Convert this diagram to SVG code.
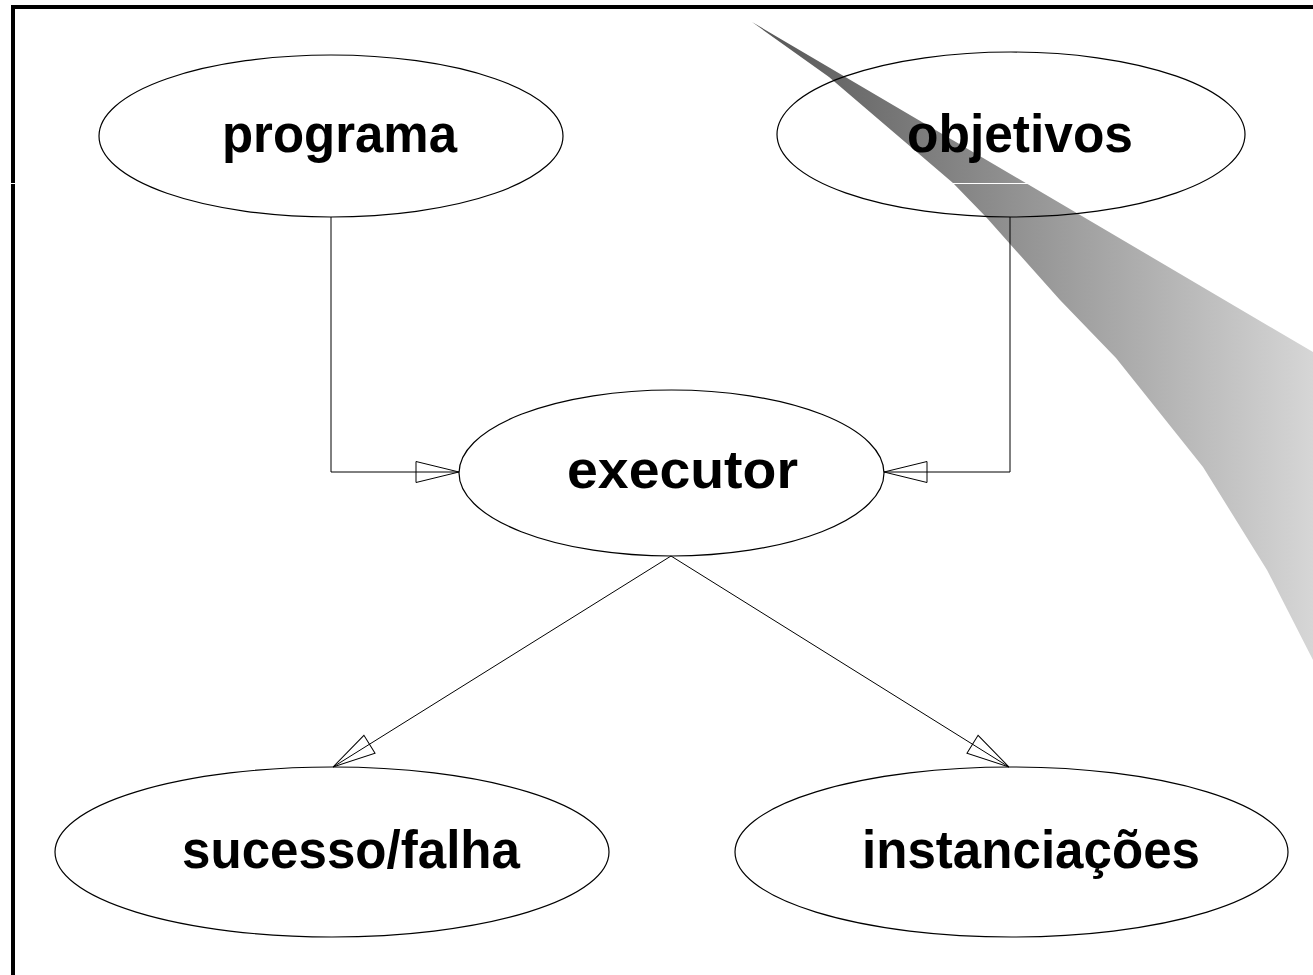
<svg xmlns="http://www.w3.org/2000/svg" width="1313" height="975" viewBox="0 0 1313 975">
  <defs>
    <linearGradient id="shadeGrad" gradientUnits="userSpaceOnUse" x1="752" y1="0" x2="1313" y2="0">
      <stop offset="0" stop-color="#555555"/>
      <stop offset="1" stop-color="#d6d6d6"/>
    </linearGradient>
    <marker id="hollowArrow" markerUnits="userSpaceOnUse" markerWidth="46" markerHeight="24" viewBox="-44 -12 46 24" refX="0" refY="0" orient="auto" overflow="visible">
      <path d="M0,0 L-43,-10.5 L-43,10.5 Z" fill="none" stroke="#000" stroke-width="1"/>
    </marker>
    <style>
      .node { fill: none; stroke: #000; stroke-width: 1.2; }
      .label { font-family: "Liberation Sans", Arial, sans-serif; font-weight: bold; font-size: 53px; fill: #000; text-anchor: middle; }
      .edge { fill: none; stroke: #000; stroke-width: 1; marker-end: url(#hollowArrow); }
    </style>
  </defs>

  <rect x="0" y="0" width="1313" height="975" fill="#fff"/>

  <!-- gradient light beam behind the drawing -->
  <polygon fill="url(#shadeGrad)" points="752,22 1313,352 1313,660 1267,570 1203,467 1116,358 1060,300 986,217 953,183 829,77"/>

  <!-- frame -->
  <rect x="11" y="5" width="1302" height="4" fill="#000"/>
  <rect x="11" y="5" width="4" height="970" fill="#000"/>
  <rect x="0" y="183" width="1313" height="1" fill="#fff"/>

  <g id="connectors">
    <path class="edge" d="M331,217 L331,472 L459,472"/>
    <path class="edge" d="M1010,217 L1010,472 L884,472"/>
    <path class="edge" d="M671,556 L333,767"/>
    <path class="edge" d="M671,556 L1009,767"/>
  </g>

  <g id="programa">
    <ellipse class="node" cx="331" cy="136" rx="232" ry="81"/>
    <text class="label" x="339.5" y="152" textLength="235" lengthAdjust="spacingAndGlyphs">programa</text>
  </g>

  <g id="objetivos">
    <ellipse class="node" cx="1011" cy="134.5" rx="234" ry="82.5"/>
    <text class="label" x="1020" y="152" textLength="226" lengthAdjust="spacingAndGlyphs">objetivos</text>
  </g>

  <g id="executor">
    <ellipse class="node" cx="671.5" cy="473" rx="212.5" ry="83"/>
    <text class="label" x="682.5" y="488" textLength="231" lengthAdjust="spacingAndGlyphs">executor</text>
  </g>

  <g id="sucesso-falha">
    <ellipse class="node" cx="332" cy="852" rx="277" ry="85"/>
    <text class="label" x="351" y="868" textLength="338" lengthAdjust="spacingAndGlyphs">sucesso/falha</text>
  </g>

  <g id="instanciacoes">
    <ellipse class="node" cx="1011.5" cy="852" rx="276.5" ry="85"/>
    <text class="label" x="1031" y="868" textLength="338" lengthAdjust="spacingAndGlyphs">instanciações</text>
  </g>
</svg>
